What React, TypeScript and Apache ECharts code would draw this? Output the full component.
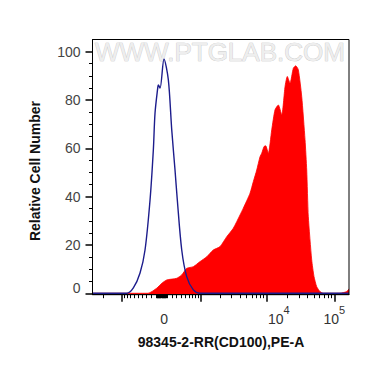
import React, { useEffect, useRef } from 'react';
import * as echarts from 'echarts';

// Biexponential-like display (arcsinh) of PE-A intensity
const COFACTOR = 555;
const X_RANGE = [-2890, 165000];
const Y_RANGE = [-0.6, 105];

// Unstained control (blue outline): PE-A intensity and relative cell number
const CONTROL_X = [-2890, -1074, -824, -619, -444, -329, -223, -157, -124, -72, -61, -28, 47, 130, 197, 264, 313, 413, 537, 726, 956, 1395, 165000];
const CONTROL_Y = [0, 0, 0, 2.2, 8.4, 17.9, 38.6, 59.3, 74.6, 85.0, 86.2, 84.9, 96.9, 88.3, 67.6, 51.0, 38.6, 17.9, 6.9, 1.4, 0, 0, 0];

// Stained sample (red filled)
const STAINED_X = [-2890, -264, -91, 4, 99, 300, 413, 537, 726, 956, 1235, 1573, 1998, 2529, 3178, 4006, 4485, 5650, 6322, 7103, 7947, 8421, 9112, 9651, 10550, 11850, 13260, 14840, 16670, 18650, 20170, 22110, 24740, 26850, 29330, 32940, 36870, 39070, 41260, 46310, 50090, 54920, 61460, 68780, 121500, 152600, 165000];
const STAINED_Y = [0, 0, 2.1, 4.1, 5.5, 6.2, 7.6, 10.3, 11.0, 13.1, 15.1, 17.9, 19.3, 23.4, 26.9, 32.4, 35.2, 41.4, 46.2, 51.0, 56.5, 57.9, 60.7, 61.0, 57.9, 67.6, 75.9, 77.9, 73.8, 85.5, 89.7, 86.9, 93.1, 94.1, 92.5, 81.4, 63.6, 51.0, 31.7, 13.8, 6.9, 2.7, 0.7, 0, 0, 0.7, 1.8];

const X_MAJOR_TICKS = [-1000, 1000, 10000, 100000];
const X_LABEL_VALUES = [0, 10000, 100000];
const X_LABEL_TEXTS = ['{p0|}{b|0}', '{p4|}{b|10}{s|4}', '{b|10}{s|5}'];
const Y_MAJOR_TICKS = [0, 20, 40, 60, 80, 100];
const Y_MINOR_TICKS = [5, 10, 15, 25, 30, 35, 45, 50, 55, 65, 70, 75, 85, 90, 95];

const X_TITLE = '98345-2-RR(CD100),PE-A';
const Y_TITLE = 'Relative Cell Number';
const WATERMARK = 'WWW.PTGLAB.COM';

const FONT = "'Liberation Sans', Arial, Helvetica, sans-serif";
const T = (v: number) => Math.asinh(v / COFACTOR);

function minorXTicks(): number[] {
  const out: number[] = [];
  for (let d = 1; d <= 9; d++) {
    out.push(d * 10, -d * 10, d * 100, -d * 100);
    if (d >= 2) out.push(d * 1000, -d * 1000, d * 10000, -d * 10000);
  }
  return out.filter((v) => v > X_RANGE[0] && v < X_RANGE[1]).map(T);
}

function buildOption(): any {
  const xMin = T(X_RANGE[0]);
  const xMax = T(X_RANGE[1]);
  const xLabelPos = X_LABEL_VALUES.map(T);
  return {
    animation: false,
    backgroundColor: '#ffffff',
    grid: {
      left: 92.5,
      top: 39.5,
      right: 21,
      bottom: 72.3,
      show: true,
      borderColor: '#000',
      borderWidth: 1,
      backgroundColor: 'transparent',
      z: 10,
    },
    xAxis: [
      {
        type: 'value',
        min: xMin,
        max: xMax,
        position: 'bottom',
        z: 10,
        axisLine: { show: true, onZero: false, lineStyle: { color: '#000', width: 1 } },
        axisTick: { show: true, customValues: X_MAJOR_TICKS.map(T), length: 7, lineStyle: { color: '#000', width: 1.5 } },
        axisLabel: {
          show: true,
          customValues: xLabelPos,
          margin: 10,
          formatter: (v: number) => {
            const i = xLabelPos.findIndex((p) => Math.abs(p - v) < 1e-6);
            return i >= 0 ? X_LABEL_TEXTS[i] : '';
          },
          rich: {
            b: { fontSize: 14, fontFamily: FONT, color: '#333', lineHeight: 21, verticalAlign: 'bottom' },
            s: { fontSize: 11, fontFamily: FONT, color: '#333', lineHeight: 21, verticalAlign: 'top' },
            p0: { width: 5, lineHeight: 21 },
            p4: { width: 24, lineHeight: 21 },
          },
        },
        splitLine: { show: false },
      },
      {
        type: 'value',
        min: xMin,
        max: xMax,
        position: 'bottom',
        z: 10,
        axisLine: { show: false, onZero: false },
        axisTick: { show: true, customValues: minorXTicks(), length: 3.5, lineStyle: { color: '#000', width: 1 } },
        axisLabel: { show: false },
        splitLine: { show: false },
      },
    ],
    yAxis: [
      {
        type: 'value',
        min: Y_RANGE[0],
        max: Y_RANGE[1],
        position: 'left',
        z: 10,
        axisLine: { show: true, onZero: false, lineStyle: { color: '#000', width: 1 } },
        axisTick: { show: true, customValues: Y_MAJOR_TICKS, length: 7, lineStyle: { color: '#000', width: 1.5 } },
        axisLabel: {
          show: true,
          customValues: Y_MAJOR_TICKS,
          margin: 12,
          fontSize: 14,
          fontFamily: FONT,
          color: '#444',
          formatter: (v: number) => (Math.abs(v) < 1e-6 ? '{z|0}' : String(Math.round(v))),
          rich: {
            z: { fontSize: 14, fontFamily: FONT, color: '#444', padding: [0, 0, 10, 0] },
          },
        },
        splitLine: { show: false },
      },
      {
        type: 'value',
        min: Y_RANGE[0],
        max: Y_RANGE[1],
        position: 'left',
        z: 10,
        axisLine: { show: false, onZero: false },
        axisTick: { show: true, customValues: Y_MINOR_TICKS, length: 3.5, lineStyle: { color: '#000', width: 1 } },
        axisLabel: { show: false },
        splitLine: { show: false },
      },
    ],
    graphic: [
      {
        type: 'text',
        x: 95,
        y: 52,
        z: -1,
        style: {
          text: WATERMARK,
          fontSize: 26,
          fontFamily: FONT,
          fill: '#eeeeee',
          stroke: '#c2c2c2',
          lineWidth: 0.7,
          align: 'left',
          verticalAlign: 'middle',
        },
      },
      {
        type: 'text',
        x: 35,
        y: 171,
        rotation: Math.PI / 2,
        style: {
          text: Y_TITLE,
          fontSize: 14,
          fontWeight: 'bold',
          fontFamily: FONT,
          fill: '#111',
          align: 'center',
          verticalAlign: 'middle',
        },
      },
      {
        type: 'text',
        x: 221,
        y: 342,
        style: {
          text: X_TITLE,
          fontSize: 14,
          fontWeight: 'bold',
          fontFamily: FONT,
          fill: '#111',
          align: 'center',
          verticalAlign: 'middle',
        },
      },
    ],
    series: [
      {
        type: 'line',
        name: 'Stained',
        xAxisIndex: 0,
        yAxisIndex: 0,
        data: STAINED_X.map((x, i) => [T(x), STAINED_Y[i]]),
        symbol: 'none',
        smooth: 0.2,
        z: 2,
        lineStyle: { color: '#ff0000', width: 0.8 },
        itemStyle: { color: '#ff0000' },
        areaStyle: { color: '#ff0000', opacity: 1, origin: 'start' },
      },
      {
        type: 'line',
        name: 'Control',
        xAxisIndex: 0,
        yAxisIndex: 0,
        data: CONTROL_X.map((x, i) => [T(x), CONTROL_Y[i]]),
        symbol: 'none',
        smooth: 0.3,
        z: 3,
        lineStyle: { color: '#1c1c8c', width: 1.4 },
        itemStyle: { color: '#1c1c8c' },
      },
    ],
  };
}

export default function App() {
  const ref = useRef<HTMLDivElement>(null);
  useEffect(() => {
    document.body.style.margin = '0';
    if (!ref.current) return;
    const chart = echarts.init(ref.current, undefined, { renderer: 'svg' });
    chart.setOption(buildOption());
    return () => chart.dispose();
  }, []);
  return <div ref={ref} style={{ width: 370, height: 367, background: '#fff' }} />;
}
